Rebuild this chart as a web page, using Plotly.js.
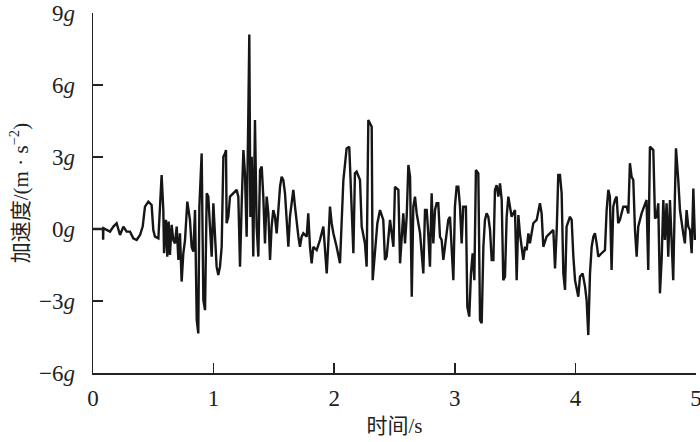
<!DOCTYPE html>
<html>
<head>
<meta charset="utf-8">
<script src="https://cdn.plot.ly/plotly-3.0.1.min.js"></script>
<style>html,body{margin:0;padding:0;background:#fff}#chart{width:700px;height:442px}</style>
</head>
<body>
<div id="chart"></div>
<script>
// time (s)
const timeS = [0,0.083,0.084,0.086,0.141,0.169,0.196,0.224,0.252,0.279,0.307,0.334,0.362,0.390,0.412,0.431,0.459,0.486,0.500,0.514,0.542,0.556,0.569,0.583,0.589,0.605,0.616,0.627,0.638,0.652,0.666,0.680,0.694,0.708,0.721,0.735,0.749,0.763,0.777,0.782,0.804,0.818,0.832,0.846,0.860,0.873,0.882,0.901,0.915,0.929,0.943,0.956,0.970,0.984,0.998,1.012,1.025,1.039,1.053,1.067,1.081,1.095,1.103,1.108,1.122,1.136,1.164,1.191,1.205,1.219,1.233,1.247,1.260,1.274,1.288,1.296,1.305,1.316,1.329,1.343,1.357,1.371,1.385,1.399,1.412,1.426,1.440,1.454,1.468,1.481,1.495,1.509,1.523,1.551,1.564,1.578,1.592,1.606,1.620,1.633,1.647,1.661,1.675,1.689,1.703,1.716,1.730,1.744,1.772,1.785,1.799,1.813,1.827,1.855,1.882,1.910,1.938,1.951,1.965,1.979,1.993,2.020,2.048,2.076,2.103,2.125,2.145,2.159,2.172,2.186,2.214,2.228,2.255,2.269,2.283,2.311,2.319,2.338,2.358,2.380,2.407,2.421,2.435,2.463,2.477,2.491,2.504,2.532,2.546,2.560,2.573,2.587,2.601,2.615,2.629,2.643,2.656,2.670,2.684,2.712,2.725,2.739,2.753,2.767,2.780,2.794,2.808,2.822,2.836,2.849,2.863,2.877,2.891,2.905,2.932,2.946,2.960,2.988,3.001,3.015,3.029,3.043,3.057,3.070,3.092,3.104,3.120,3.134,3.148,3.162,3.175,3.195,3.209,3.223,3.237,3.250,3.264,3.278,3.292,3.306,3.320,3.333,3.347,3.361,3.375,3.389,3.402,3.416,3.430,3.444,3.471,3.499,3.513,3.527,3.540,3.568,3.582,3.596,3.610,3.623,3.637,3.651,3.679,3.706,3.720,3.734,3.761,3.789,3.817,3.831,3.845,3.858,3.872,3.886,3.900,3.914,3.927,3.955,3.969,3.983,3.997,4.024,4.038,4.060,4.080,4.093,4.107,4.121,4.135,4.149,4.162,4.176,4.190,4.217,4.245,4.259,4.273,4.286,4.300,4.314,4.328,4.342,4.355,4.369,4.397,4.425,4.439,4.452,4.466,4.480,4.494,4.508,4.521,4.549,4.577,4.590,4.604,4.618,4.646,4.660,4.673,4.687,4.701,4.715,4.729,4.742,4.756,4.770,4.784,4.798,4.811,4.825,4.834,4.853,4.867,4.894,4.908,4.922,4.936,4.950,4.964,4.978,4.991];
// acceleration (g)
const accelG = [0,0,-0.45,0.03,-0.11,0.10,0.24,-0.25,0.10,-0.11,-0.11,-0.39,-0.46,-0.25,0.10,0.93,1.14,1.00,-0.04,-0.32,-0.39,1.21,2.25,0.79,-1.01,0.38,-1.15,0.31,-1.08,0.17,-0.46,-0.60,0.10,-1.29,-0.18,-2.19,-1.01,-0.46,0.51,1.14,0.38,-0.74,-0.94,0.79,-3.79,-4.35,0.93,3.15,-2.96,-3.38,1.49,1.35,0.10,-1.15,1.07,-0.60,-1.57,-1.92,-1.57,-0.74,3.01,3.15,3.29,0.24,0.51,1.35,1.49,1.63,1.35,-1.57,1.07,3.29,2.32,-0.32,4.82,8.10,0.50,3.01,-1.15,4.54,0.10,-1.15,2.46,2.60,1.35,-0.60,1.35,0.65,-1.29,0.10,0.79,0.51,-0.18,1.76,2.18,2.04,1.49,0.51,-0.74,0.51,1.07,1.63,0.93,0.24,-0.32,-0.74,-0.32,-0.18,-0.32,0.65,-0.74,-1.43,-0.74,-0.88,-0.46,0.10,-1.85,-0.60,0.93,0.24,-0.18,-0.74,-1.43,2.04,3.36,3.43,0.51,-1.01,2.32,2.39,2.04,0.10,-0.60,-1.57,4.54,4.26,-2.13,-1.01,0.24,0.79,0.38,-1.29,-1.15,0.38,-0.18,-0.74,1.76,1.63,-1.43,-0.32,0.65,-0.60,0.51,2.67,2.18,-2.82,0.93,1.35,0.65,-0.18,-0.88,-1.85,0.79,0.79,-0.18,-1.57,1.49,-0.60,0.79,1.07,1.07,-0.32,-0.46,-1.29,-0.18,0.38,0.51,-2.13,0.93,1.76,1.76,0.93,-0.60,0.93,0.93,-3.24,-3.65,-1.85,-1.01,-2.13,2.46,2.32,-3.79,-3.93,-0.74,0.38,0.65,0.51,-0.04,-1.29,-1.29,1.63,1.83,1.35,1.90,1.21,-2.13,-1.99,0.51,1.35,0.51,0.79,-2.13,0.58,-0.18,-1.29,-0.74,-0.88,-0.18,-0.60,-0.18,0.24,0.38,1.07,0.65,-0.74,-0.32,-0.18,-0.04,-1.64,-0.04,2.25,2.25,1.49,-1.85,-2.54,0.10,0.51,0.38,-1.15,-2.13,-2.82,-1.99,-1.85,-2.40,-2.96,-4.42,-1.85,-0.74,-0.32,-0.18,-0.60,-1.15,-1.01,-0.88,0.79,1.63,1.35,-1.71,0.93,1.21,1.35,0.24,0.38,0.93,0.93,0.65,2.74,2.18,2.04,-0.04,-1.15,0.10,0.65,1.07,1.21,-1.71,3.43,3.29,0.44,0.51,1.07,-2.68,-1.29,1.21,-0.46,1.07,-1.15,1.21,-0.88,-2.13,1.35,3.36,2.04,0.79,-0.18,-0.60,0.79,0.10,-0.04,-1.01,1.69,-0.46];
// tick labels
const yTickVals = [-6,-3,0,3,6,9];
const yTickText = ['−6<i>g</i>','−3<i>g</i>','0<i>g</i>','3<i>g</i>','6<i>g</i>','9<i>g</i>'];
const xTickVals = [0,1,2,3,4,5];
const xTickText = ['0','1','2','3','4','5'];

const fontFam = '"Liberation Serif", "Times New Roman", "Noto Sans CJK SC", serif';

Plotly.newPlot('chart', [{
  x: timeS, y: accelG, type: 'scatter', mode: 'lines',
  line: {color: '#161616', width: 2.4},
  hoverinfo: 'skip'
}], {
  width: 700, height: 442,
  margin: {l: 93, r: 4, t: 13, b: 69},
  paper_bgcolor: '#fff', plot_bgcolor: '#fff',
  showlegend: false,
  font: {family: fontFam, color: '#222', size: 22},
  xaxis: {
    range: [0, 5], tickvals: xTickVals, ticktext: xTickText,
    ticks: 'inside', ticklen: 10, tickwidth: 1.5, tickcolor: '#222',
    showline: true, linecolor: '#222', linewidth: 1.5,
    showgrid: false, zeroline: false, ticklabelstandoff: 4,
    ticklabeloverflow: 'allow',
    tickfont: {family: fontFam, size: 23, color: '#222'},
    title: {text: '时间/s', font: {family: fontFam, size: 21, color: '#222'}, standoff: 8}
  },
  yaxis: {
    range: [-6, 9], tickvals: yTickVals, ticktext: yTickText,
    ticks: 'inside', ticklen: 10, tickwidth: 1.5, tickcolor: '#222',
    showline: true, linecolor: '#222', linewidth: 1.5,
    showgrid: false, zeroline: false, ticklabelstandoff: 12,
    ticklabeloverflow: 'allow',
    tickfont: {family: fontFam, size: 23, color: '#222'},
    title: {text: '加速度/(m · s<sup>−2</sup>)', font: {family: fontFam, size: 21, color: '#222'}, standoff: 4}
  }
}, {staticPlot: true, displayModeBar: false});
</script>
</body>
</html>
